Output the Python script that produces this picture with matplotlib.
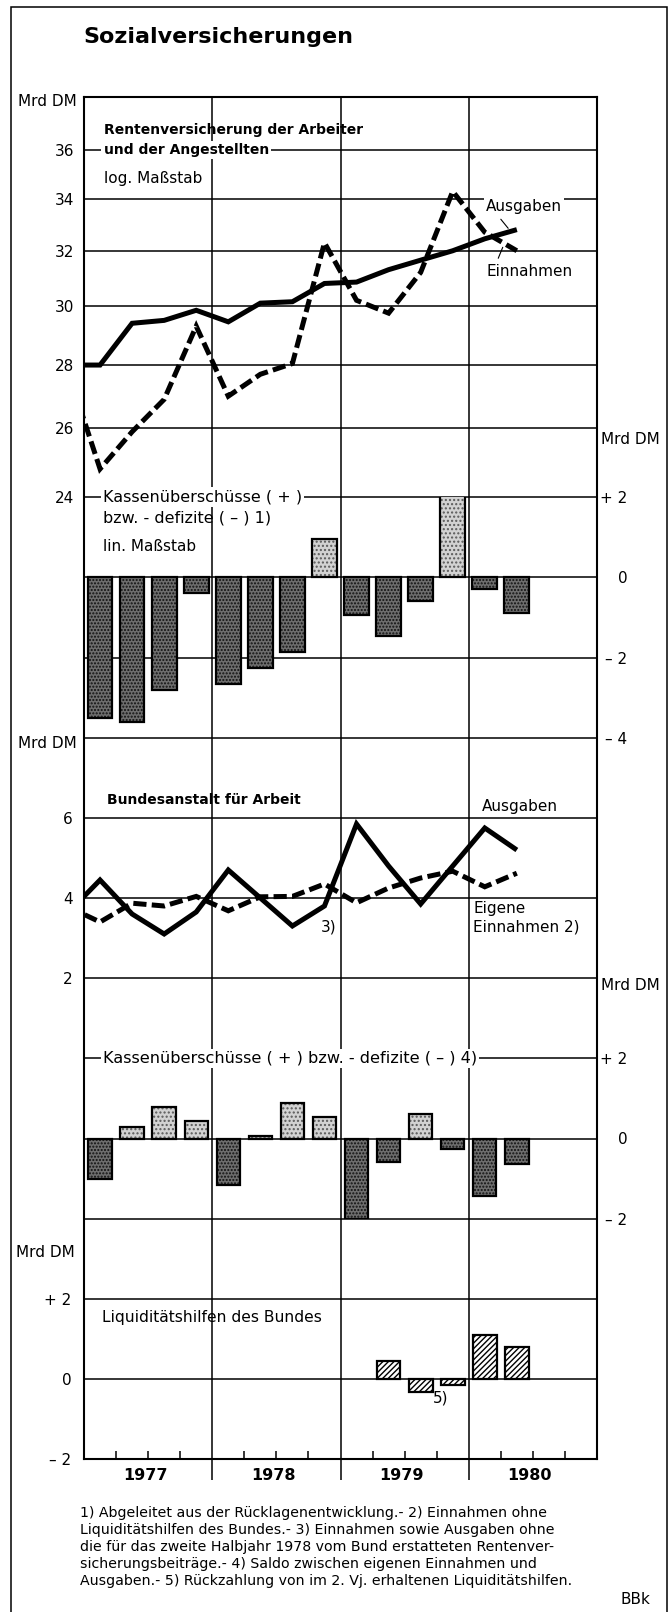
import numpy as np
import matplotlib
matplotlib.use("Agg")
import matplotlib.pyplot as plt
from matplotlib.patches import Rectangle
from matplotlib.ticker import NullLocator, NullFormatter

plt.rcParams['font.family'] = ['DejaVu Sans']
plt.rcParams['lines.scale_dashes'] = False
plt.rcParams['hatch.linewidth'] = 1.0

# ---------------- data ----------------
years = ["1977", "1978", "1979", "1980"]
quarters = ["77/1", "77/2", "77/3", "77/4", "78/1", "78/2", "78/3", "78/4",
            "79/1", "79/2", "79/3", "79/4", "80/1", "80/2"]
# line series: first value = 4th quarter 1976 (lead-in from the left edge)
rv_ausgaben = [28.0, 28.0, 29.4, 29.5, 29.85, 29.45, 30.1, 30.15, 30.8, 30.85,
               31.3, 31.65, 32.0, 32.45, 32.8]
rv_einnahmen = [27.8, 24.8, 25.9, 26.9, 29.3, 27.0, 27.7, 28.05, 32.3, 30.2,
                29.75, 31.2, 34.3, 32.7, 32.0]
rv_saldo = [-3.5, -3.6, -2.8, -0.4, -2.65, -2.25, -1.85, 0.95, -0.95, -1.45,
            -0.58, 2.6, -0.3, -0.9]
ba_ausgaben = [3.63, 4.45, 3.6, 3.1, 3.65, 4.7, 4.0, 3.3, 3.8, 5.85, 4.8, 3.85,
               4.8, 5.75, 5.2]
ba_einnahmen = [3.78, 3.4, 3.87, 3.8, 4.04, 3.68, 4.03, 4.04, 4.35, 3.88, 4.25,
                4.5, 4.67, 4.28, 4.62]
ba_saldo = [-1.0, 0.28, 0.78, 0.43, -1.15, 0.07, 0.88, 0.54, -2.0, -0.58, 0.61,
            -0.27, -1.44, -0.64]
liquiditaet = [np.nan] * 9 + [0.45, -0.31, -0.14, 1.1, 0.8]

rv_ticks = [24, 26, 28, 30, 32, 34, 36]
ba_ticks = [2, 4, 6]
saldo_ticks = [2, 0, -2, -4]
saldo_labels = ["+ 2", "0", "– 2", "– 4"]
liq_ticks = [2, 0, -2]
liq_labels = ["+ 2", "0", "– 2"]

footnotes = [
    "1) Abgeleitet aus der Rücklagenentwicklung.- 2) Einnahmen ohne",
    "Liquiditätshilfen des Bundes.- 3) Einnahmen sowie Ausgaben ohne",
    "die für das zweite Halbjahr 1978 vom Bund erstatteten Rentenver-",
    "sicherungsbeiträge.- 4) Saldo zwischen eigenen Einnahmen und",
    "Ausgaben.- 5) Rückzahlung von im 2. Vj. erhaltenen Liquiditätshilfen.",
]

# ---------------- layout helpers ----------------
W, H, DPI = 669, 1612, 100
fig = plt.figure(figsize=(W / DPI, H / DPI), dpi=DPI)
fig.patch.set_facecolor("white")

XL, XR = 84, 597


def fx(p):
    return p / W


def fy(p):
    return 1 - p / H


def panel(top, bottom):
    ax = fig.add_axes([fx(XL), fy(bottom), fx(XR) - fx(XL), (bottom - top) / H])
    ax.set_xlim(0, 16)
    ax.patch.set_visible(False)
    for s in ax.spines.values():
        s.set_visible(False)
    ax.set_xticks([])
    return ax


def T(px, py, s, **kw):
    kw.setdefault("fontsize", 11)
    kw.setdefault("va", "center")
    return fig.text(fx(px), fy(py), s, **kw)


GRID = dict(color="black", lw=1.1, zorder=1, clip_on=False)
WHITE = dict(facecolor="white", edgecolor="none", pad=1.5)
LW = 3.6
DASH = (0, (9.5, 3.8))

# outer frame
fig.add_artist(Rectangle((fx(10.5), fy(1640)), fx(666.5) - fx(10.5), (1640 - 6.5) / H,
                         transform=fig.transFigure, fill=False, lw=1.1, color="black"))

# frame axes: outer box, year separators, time axis
frame = panel(96.7, 1459.3)
frame.set_ylim(0, 1)
frame.set_yticks([])
for s in frame.spines.values():
    s.set_visible(True)
    s.set_linewidth(1.5)
for xv in [4, 8, 12]:
    frame.axvline(xv, color="black", lw=1.1, zorder=1)
frame.set_xticks([4, 8, 12])
frame.set_xticks([q for q in range(1, 16) if q % 4], minor=True)
frame.tick_params(axis="x", which="major", direction="out", length=15, width=1.1,
                  labelbottom=False)
frame.tick_params(axis="x", which="minor", direction="in", length=6, width=1.1,
                  labelbottom=False)
for i, y in enumerate(years):
    frame.annotate(y, xy=(4 * i + 2, 0), xycoords=("data", "axes fraction"),
                   xytext=(-3, -9), textcoords="offset pixels", ha="center", va="top",
                   fontsize=11.5, fontweight="bold")

x_line = np.arange(len(rv_ausgaben)) - 0.5
x_bar = np.arange(len(quarters)) + 0.5


def saldo_bars(ax, values, width):
    vals = np.asarray(values, dtype=float)
    for mask, face, dots, hatch in [(vals < 0, "#6e6e6e", "#111111", "....."),
                                    (vals > 0, "#d2d2d2", "#5a5a5a", "....")]:
        # stippled fill
        ax.bar(x_bar[mask], vals[mask], width=width, facecolor=face, edgecolor=dots,
               hatch=hatch, lw=0, zorder=3)
        # outline
        ax.bar(x_bar[mask], vals[mask], width=width, fill=False, edgecolor="black",
               lw=1.6, zorder=4)


# ---- Panel 1: Rentenversicherung (log scale) ----
ax1 = panel(96.7, 497)
ax1.set_yscale("log")
ax1.set_ylim(24, 38.31)
for v in rv_ticks[1:]:
    ax1.axhline(v, **GRID)
ax1.yaxis.set_minor_locator(NullLocator())
ax1.yaxis.set_minor_formatter(NullFormatter())
ax1.set_yticks(rv_ticks, [str(t) for t in rv_ticks])
ax1.tick_params(axis="y", length=0, pad=7, labelsize=11)
ax1.plot(x_line, rv_ausgaben, color="black", lw=LW, solid_joinstyle="miter",
         solid_capstyle="butt", zorder=4)
ax1.plot(x_line, rv_einnahmen, color="black", lw=LW, ls=DASH, dash_joinstyle="miter",
         dash_capstyle="butt", zorder=4)
ax1.annotate("", xy=(13.23, 32.85), xytext=(13.0, 33.2),
             arrowprops=dict(arrowstyle="-", lw=0.8, shrinkA=0, shrinkB=0))
ax1.annotate("", xy=(13.06, 32.13), xytext=(12.92, 31.72),
             arrowprops=dict(arrowstyle="-", lw=0.8, shrinkA=0, shrinkB=0))

# ---- Panel 1b: Kassenüberschüsse (linear) ----
ax2 = panel(497, 738)
ax2.set_ylim(-4, 2)
for v in saldo_ticks:
    ax2.axhline(v, **GRID)
ax2.yaxis.tick_right()
ax2.set_yticks(saldo_ticks, saldo_labels, ha="right")
ax2.tick_params(axis="y", length=0, pad=22, labelsize=11)
saldo_bars(ax2, rv_saldo, 0.77)

# ---- Panel 2: Bundesanstalt für Arbeit ----
ax3 = panel(738, 1058)
ax3.set_ylim(0, 8)
for v in ba_ticks:
    ax3.axhline(v, **GRID)
ax3.set_yticks(ba_ticks, [str(t) for t in ba_ticks])
ax3.tick_params(axis="y", length=0, pad=8, labelsize=11)
ax3.plot(x_line, ba_ausgaben, color="black", lw=LW, solid_joinstyle="miter",
         solid_capstyle="butt", zorder=4)
ax3.plot(x_line, ba_einnahmen, color="black", lw=LW, ls=DASH, dash_joinstyle="miter",
         dash_capstyle="butt", zorder=4)

ax4 = panel(1058, 1219)
ax4.set_ylim(-2, 2)
for v in [2, 0, -2]:
    ax4.axhline(v, **GRID)
ax4.yaxis.tick_right()
ax4.set_yticks([2, 0, -2], ["+ 2", "0", "– 2"], ha="right")
ax4.tick_params(axis="y", length=0, pad=22, labelsize=11)
saldo_bars(ax4, ba_saldo, 0.73)

# ---- Panel 3: Liquiditätshilfen ----
ax5 = panel(1219, 1459.3)
ax5.set_ylim(-2, 4)
for v in [2, 0]:
    ax5.axhline(v, **GRID)
ax5.set_yticks(liq_ticks, liq_labels)
ax5.tick_params(axis="y", length=0, pad=9, labelsize=11)
liq = np.asarray(liquiditaet, dtype=float)
has = ~np.isnan(liq)
ax5.bar(x_bar[has], liq[has], width=0.74, facecolor="white", edgecolor="black",
        hatch="//////", lw=1.6, zorder=3)

# ---------------- texts ----------------
T(83, 43, "Sozialversicherungen", fontsize=16, fontweight="bold", va="baseline")
T(77, 102, "Mrd DM", ha="right")
T(103.5, 130, "Rentenversicherung der Arbeiter", fontsize=10, fontweight="bold")
T(103.5, 150, "und der Angestellten", fontsize=10, fontweight="bold", bbox=WHITE)
T(103.5, 178, "log. Maßstab")
T(486, 206.7, "Ausgaben", bbox=WHITE)
T(486, 271.7, "Einnahmen")
T(601, 440, "Mrd DM")
T(103, 497, "Kassenüberschüsse ( + )", fontsize=11.5, bbox=WHITE)
T(103, 518.3, "bzw. - defizite ( – ) 1)", fontsize=11.5)
T(103, 546.7, "lin. Maßstab")
T(77, 743.3, "Mrd DM", ha="right")
T(106.7, 800, "Bundesanstalt für Arbeit", fontsize=10, fontweight="bold")
T(481.7, 806, "Ausgaben")
T(473.3, 908.3, "Eigene")
T(473.3, 927.3, "Einnahmen 2)")
T(320.7, 926.7, "3)")
T(601, 985, "Mrd DM")
T(102.7, 1058.3, "Kassenüberschüsse ( + ) bzw. - defizite ( – ) 4)", fontsize=11.6,
  bbox=WHITE)
T(75, 1252.7, "Mrd DM", ha="right")
T(101.7, 1317.3, "Liquiditätshilfen des Bundes", fontsize=11.2)
T(433, 1398.3, "5)")
for i, line in enumerate(footnotes):
    T(80, 1513.3 + i * 17, line, fontsize=10.2)
T(621, 1600, "BBk", fontsize=11)

fig.savefig("out.png", dpi=DPI, facecolor="white")
